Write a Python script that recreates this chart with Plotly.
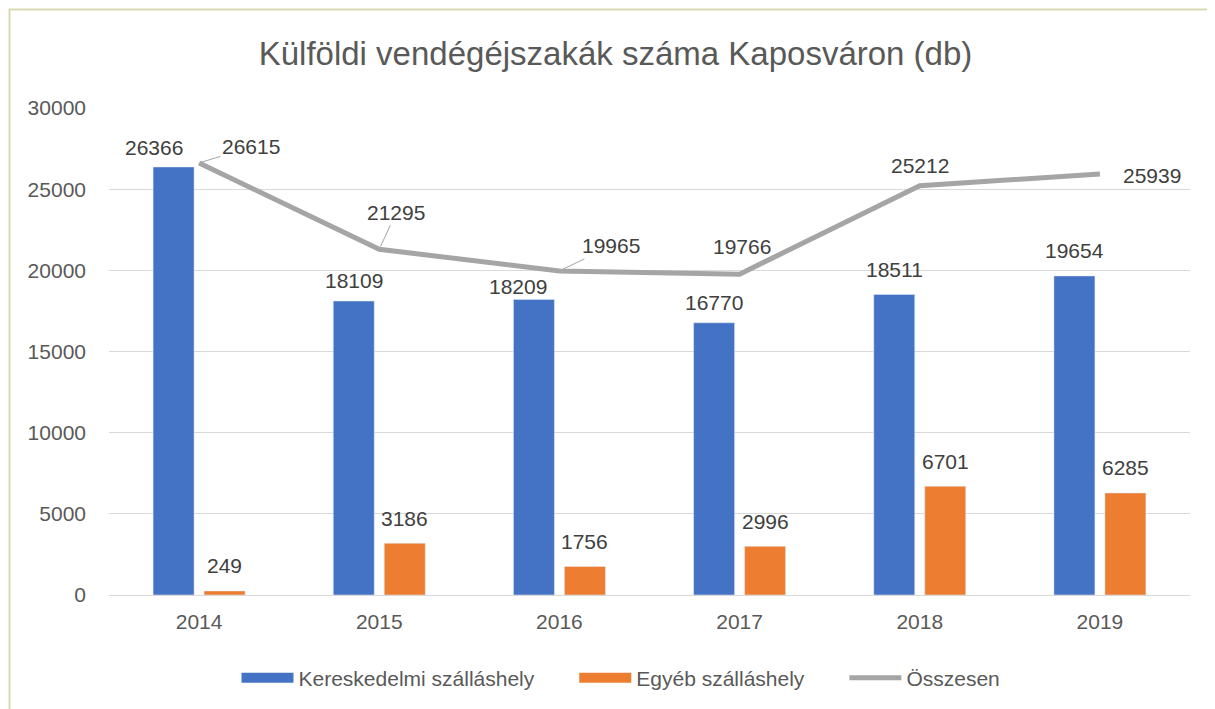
import plotly.graph_objects as go

# data
years = ["2014", "2015", "2016", "2017", "2018", "2019"]
kereskedelmi = [26366, 18109, 18209, 16770, 18511, 19654]
egyeb = [249, 3186, 1756, 2996, 6701, 6285]
osszesen = [26615, 21295, 19965, 19766, 25212, 25939]

# label placement (pixels) -- a few labels were nudged by hand in the original
total_label_offsets = [(52, -16, True), (17, -37, True), (52, -25, True),
                       (2, -28, False), (0, -20, False), (52, 2, False)]
ker_label_shift = [(-20, 19), (0, 21), (-16, 13), (0, 20), (0, 25), (0, 25)]
egy_label_shift = [(0, 25)] * 6

FONT = "Liberation Sans"
TEXT = "#404040"
AXIS_TEXT = "#595959"
BLUE = "#4472C4"
ORANGE = "#ED7D31"
GREY = "#A5A5A5"
NB = "\u00a0"

# plot area in figure pixels
L, R, T, B = 101, 33, 100, 122
PW, PH = 1215 - L - R, 709 - T - B
BARGAP = 0.434
half_slot = PW / len(years) * (1 - BARGAP) / 4

fig = go.Figure()

fig.add_trace(go.Bar(x=years, y=kereskedelmi, name="Kereskedelmi szálláshely",
                     marker_color=BLUE, showlegend=False))
fig.add_trace(go.Bar(x=years, y=egyeb, name="Egyéb szálláshely",
                     marker_color=ORANGE, showlegend=False))
fig.add_trace(go.Scatter(x=years, y=osszesen, name="Összesen", mode="lines",
                         showlegend=False, line=dict(color=GREY, width=5)))

# legend entries (wide rectangles like the original)
for name, col, w in [("Kereskedelmi szálláshely" + NB * 6, BLUE, 13),
                     ("Egyéb szálláshely" + NB * 6, ORANGE, 13),
                     ("Összesen", GREY, 5)]:
    fig.add_trace(go.Scatter(x=[None], y=[None], mode="lines", name=name,
                             line=dict(color=col, width=w)))

lab_font = dict(size=21, color=TEXT, family=FONT)

# bar value labels (category index, shifted to the bar within the group)
for i, (v1, v2) in enumerate(zip(kereskedelmi, egyeb)):
    dx, dy = ker_label_shift[i]
    fig.add_annotation(x=i, y=v1, text=str(v1), showarrow=False, yanchor="middle",
                       xshift=-half_slot + dx, yshift=dy, font=lab_font)
    dx, dy = egy_label_shift[i]
    fig.add_annotation(x=i, y=v2, text=str(v2), showarrow=False, yanchor="middle",
                       xshift=half_slot + dx, yshift=dy, font=lab_font)

# total labels, some with leader lines
for i, (val, (ax, ay, leader)) in enumerate(zip(osszesen, total_label_offsets)):
    fig.add_annotation(
        x=i, y=val, text=str(val),
        showarrow=leader, arrowhead=0, arrowwidth=1, arrowcolor=GREY,
        ax=ax, ay=ay, standoff=3, startstandoff=0,
        xshift=0 if leader else ax, yshift=0 if leader else -ay,
        font=lab_font,
    )

fig.update_layout(
    title=dict(text="Külföldi vendégéjszakák száma Kaposváron (db)",
               x=0.5, xanchor="center", y=1 - 45 / 709, yanchor="middle",
               font=dict(size=33, color=AXIS_TEXT, family=FONT)),
    width=1215, height=709,
    margin=dict(l=L, r=R, t=T, b=B),
    paper_bgcolor="white", plot_bgcolor="white",
    barmode="group", bargap=BARGAP, bargroupgap=0.196,
    font=dict(family=FONT, color=AXIS_TEXT, size=21),
    showlegend=True,
    legend=dict(orientation="h", x=(613 - L) / PW, xanchor="center",
                y=-(670 - (709 - B)) / PH, yanchor="middle",
                font=dict(size=21, color=AXIS_TEXT, family=FONT),
                traceorder="normal", itemwidth=52),
    shapes=[dict(type="rect", xref="paper", yref="paper",
                 x0=(1.5 - L) / PW, x1=(1230 - L) / PW,
                 y0=-(730 - (709 - B)) / PH, y1=1 + (T - 1.5) / PH,
                 line=dict(color="#D9D9B4", width=2), layer="below")],
)

fig.update_xaxes(type="category", range=[-0.5, len(years) - 0.5], showgrid=False,
                 showline=True, linecolor="#D9D9D9", linewidth=1, ticks="",
                 ticklabelstandoff=8, tickfont=dict(size=21, color=AXIS_TEXT))
fig.update_yaxes(range=[0, 30000], dtick=5000, tickformat="d", showgrid=True,
                 gridcolor="#D9D9D9", gridwidth=1, zeroline=False, showline=False,
                 ticks="", ticklabelstandoff=22, tickfont=dict(size=21, color=AXIS_TEXT))

fig.write_html("out.html")
